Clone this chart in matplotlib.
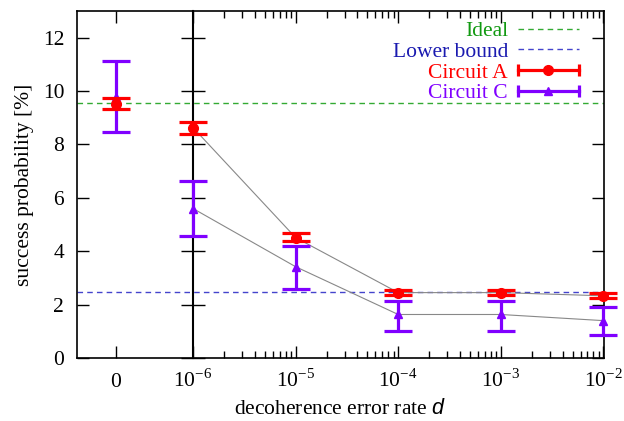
import matplotlib
matplotlib.use("Agg")
import matplotlib.pyplot as plt
import numpy as np
from matplotlib.lines import Line2D
from matplotlib.legend_handler import HandlerLine2D, HandlerTuple

plt.rcParams['font.family'] = ['Liberation Serif', 'DejaVu Serif']
plt.rcParams['mathtext.fontset'] = 'custom'
plt.rcParams['mathtext.rm'] = 'Liberation Serif'
plt.rcParams['mathtext.it'] = 'Liberation Sans:italic'
plt.rcParams['axes.unicode_minus'] = False

# ---- data ----
rate_labels = ["0", "10^{-6}", "10^{-5}", "10^{-4}", "10^{-3}", "10^{-2}"]
rate_log = [-6.75, -6, -5, -4, -3, -2]   # "0" drawn left of the log axis

a_val = [9.53, 8.63, 4.51, 2.45, 2.45, 2.33]
a_lo = [9.31, 8.41, 4.38, 2.35, 2.35, 2.23]
a_hi = [9.75, 8.84, 4.67, 2.55, 2.55, 2.42]

c_val = [9.79, 5.60, 3.42, 1.63, 1.63, 1.40]
c_lo = [8.48, 4.57, 2.57, 1.01, 1.01, 0.86]
c_hi = [11.12, 6.63, 4.20, 2.15, 2.15, 1.92]

ideal = 9.56
lower_bound = 2.48

RED = '#ff0000'
PURPLE = '#8000ff'
GREEN = '#119911'
BLUE = '#1a1ab0'
GREY = '#888888'
FS = 15.5

fig = plt.figure(figsize=(6.24, 4.21), dpi=100)
ax = fig.add_axes([76.7/624, 1-358/421, (604-76.7)/624, (358-11)/421])

xmin, xmax = -7.134, -1.994
ax.set_xlim(xmin, xmax)
ax.set_ylim(0, 13)

x = np.array(rate_log)
a_val = np.array(a_val); c_val = np.array(c_val)

# reference lines
l_ideal = ax.axhline(ideal, color='#33aa33', lw=1.0, dashes=(4, 3), zorder=1)
l_low = ax.axhline(lower_bound, color='#4444cc', lw=1.0, dashes=(4, 3), zorder=1)

# connecting grey lines (log-axis points only)
ax.plot(x[1:], a_val[1:], color=GREY, lw=0.8, zorder=2)
ax.plot(x[1:], c_val[1:], color=GREY, lw=0.8, zorder=2)

ebc = ax.errorbar(x, c_val, yerr=[c_val - np.array(c_lo), np.array(c_hi) - c_val],
                  fmt='^', color=PURPLE, ms=6, elinewidth=2.3, capsize=10.3,
                  capthick=2.3, zorder=3)
eba = ax.errorbar(x, a_val, yerr=[a_val - np.array(a_lo), np.array(a_hi) - a_val],
                  fmt='o', color=RED, ms=7, elinewidth=2.3, capsize=10.3,
                  capthick=2.3, zorder=4)
for cont in (ebc, eba):
    for art in cont.get_children():
        art.set_clip_on(False)

# ticks
ax.set_xticks(rate_log)
ax.set_xticklabels(["$" + s + "$" for s in rate_labels])
minor = [d + np.log10(k) for d in range(-6, -2) for k in range(2, 10)]
ax.set_xticks(minor, minor=True)
ax.set_yticks(range(0, 13, 2))
ax.tick_params(which='both', direction='in', top=True, right=True, width=1.0,
               labelsize=FS)
ax.tick_params(which='major', length=8.5)
ax.tick_params(which='minor', length=5)
ax.tick_params(axis='x', which='major', pad=21)
ax.tick_params(axis='y', pad=9)
plt.setp(ax.get_xticklabels(), va='baseline')
for s in ax.spines.values():
    s.set_linewidth(1.2)

# inner axis at 1e-6
loc = (-6 - xmin) / (xmax - xmin)
sec = ax.secondary_yaxis(loc)
sec.set_yticks(range(0, 13, 2))
sec.tick_params(direction='inout', length=17, width=1.0, labelleft=False,
                labelright=False)
sec.spines['left'].set_linewidth(1.5)
sec.spines['right'].set_linewidth(1.5)

ax.set_ylabel('success probability [%]', fontsize=FS, labelpad=6)
ax.set_xlabel(r'decoherence error rate $d$', fontsize=FS, labelpad=5)

# legend
capsA = Line2D([], [], color=RED, lw=2.3, marker='|', ms=9, mew=2.3)
mkA = Line2D([], [], color=RED, ls='none', marker='o', ms=7)
capsC = Line2D([], [], color=PURPLE, lw=2.3, marker='|', ms=9, mew=2.3)
mkC = Line2D([], [], color=PURPLE, ls='none', marker='^', ms=6)
hm = {capsA: HandlerLine2D(numpoints=2, marker_pad=0),
      capsC: HandlerLine2D(numpoints=2, marker_pad=0),
      mkA: HandlerLine2D(numpoints=1), mkC: HandlerLine2D(numpoints=1),
      tuple: HandlerTuple(ndivide=1)}
leg = ax.legend([l_ideal, l_low, (capsA, mkA), (capsC, mkC)],
                ['Ideal', 'Lower bound', 'Circuit A', 'Circuit C'],
                handler_map=hm, loc='upper right',
                bbox_to_anchor=(579/624, 1-21/421), bbox_transform=fig.transFigure,
                frameon=False, markerfirst=False, fontsize=FS,
                handlelength=2.85, handletextpad=0.45, labelspacing=0.03,
                borderpad=0, borderaxespad=0,
                labelcolor=[GREEN, BLUE, RED, PURPLE])

fig.savefig('out.png', dpi=100)
